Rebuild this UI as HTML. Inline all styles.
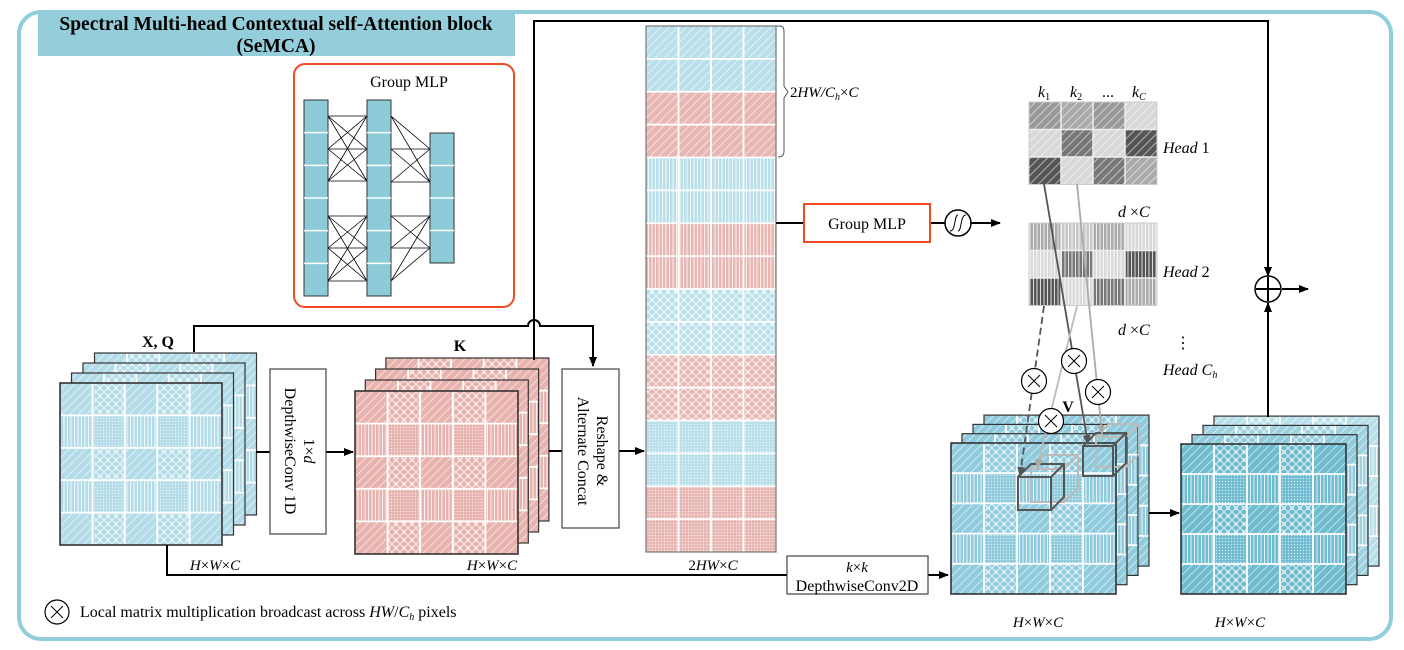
<!DOCTYPE html>
<html><head><meta charset="utf-8"><style>
html,body{margin:0;padding:0;background:#fff;}
svg{display:block;font-family:"Liberation Serif",serif;}
</style></head><body>
<svg id="s" width="1404" height="650" viewBox="0 0 1404 650" xmlns="http://www.w3.org/2000/svg">
<defs>
<pattern id="pd" width="6" height="6" patternUnits="userSpaceOnUse" patternTransform="rotate(45)"><line x1="0" y1="0" x2="0" y2="6" stroke="#fff" stroke-width="1.4" stroke-opacity="0.8"/></pattern>
<pattern id="pv" width="3.5" height="6" patternUnits="userSpaceOnUse"><line x1="1" y1="0" x2="1" y2="6" stroke="#fff" stroke-width="1" stroke-opacity="0.8"/></pattern>
<pattern id="pc" width="8" height="8" patternUnits="userSpaceOnUse"><path d="M0 0L8 8M8 0L0 8" stroke="#fff" stroke-width="0.9" stroke-opacity="0.8"/><circle cx="4" cy="4" r="1.6" fill="none" stroke="#fff" stroke-opacity="0.6" stroke-width="0.7"/></pattern>
<pattern id="pt" width="3" height="3" patternUnits="userSpaceOnUse"><circle cx="1.5" cy="1.5" r="0.7" fill="#fff" fill-opacity="0.7"/></pattern>
<marker id="ar" markerWidth="10" markerHeight="10" refX="9" refY="5" orient="auto" markerUnits="userSpaceOnUse"><path d="M0 1L10 5L0 9z" fill="#000"/></marker>
<marker id="ad" markerWidth="10" markerHeight="10" refX="9" refY="5" orient="auto" markerUnits="userSpaceOnUse"><path d="M0 1L10 5L0 9z" fill="#555"/></marker>
<marker id="ag" markerWidth="10" markerHeight="10" refX="9" refY="5" orient="auto" markerUnits="userSpaceOnUse"><path d="M0 1L10 5L0 9z" fill="#aaa"/></marker>
</defs>
<rect x="19" y="12" width="1372" height="627" rx="22" fill="none" stroke="#92cddb" stroke-width="4"/>
<rect x="38" y="14" width="477" height="42" fill="#94cedb"/>
<text x="276" y="30" font-size="19.5" font-weight="bold" text-anchor="middle">Spectral Multi-head Contextual self-Attention block</text>
<text x="276" y="52" font-size="19.5" font-weight="bold" text-anchor="middle">(SeMCA)</text>
<rect x="294" y="64" width="220" height="243" rx="11" fill="none" stroke="#f04a24" stroke-width="2"/>
<text x="409" y="87" font-size="16" text-anchor="middle">Group MLP</text>
<g id="mlp"></g>
<g id="stk"></g>
<g id="col"></g>
<g id="heads"></g>
<path d="M534 360V21H1268V276" fill="none" stroke="#000" stroke-width="2" marker-end="url(#ar)"/>
<path d="M194 352V326H528a6 6 0 0 1 12 0H593V366" fill="none" stroke="#000" stroke-width="2" marker-end="url(#ar)"/>
<line x1="256" y1="452" x2="270" y2="452" stroke="#000" stroke-width="2"/>
<line x1="326" y1="452" x2="353" y2="452" stroke="#000" stroke-width="2" marker-end="url(#ar)"/>
<line x1="549" y1="451" x2="562" y2="451" stroke="#000" stroke-width="2"/>
<line x1="619" y1="451" x2="644" y2="451" stroke="#000" stroke-width="2" marker-end="url(#ar)"/>
<path d="M167 545V575H948" fill="none" stroke="#000" stroke-width="2" marker-end="url(#ar)"/>
<line x1="776" y1="223" x2="804" y2="223" stroke="#000" stroke-width="2"/>
<line x1="930" y1="223" x2="945" y2="223" stroke="#000" stroke-width="2"/>
<line x1="971" y1="223" x2="1000" y2="223" stroke="#000" stroke-width="2" marker-end="url(#ar)"/>
<line x1="1149" y1="513" x2="1179" y2="513" stroke="#000" stroke-width="2" marker-end="url(#ar)"/>
<line x1="1268" y1="417" x2="1268" y2="303" stroke="#000" stroke-width="2" marker-end="url(#ar)"/>
<line x1="1282" y1="289" x2="1308" y2="289" stroke="#000" stroke-width="2" marker-end="url(#ar)"/>
<circle cx="1268" cy="289" r="13" fill="#fff" stroke="#000" stroke-width="1.5"/>
<path d="M1256 289H1280M1268 277V301" stroke="#000" stroke-width="2"/>
<circle cx="958" cy="223" r="13" fill="#fff" stroke="#000" stroke-width="1.5"/>
<path d="M950 231C956 231 954 215 958 215M958 231C962 231 960 215 966 215" fill="none" stroke="#000" stroke-width="1"/>
<rect x="270" y="369" width="56" height="165" fill="#fff" stroke="#444" stroke-width="1.2"/>
<text transform="translate(304,451) rotate(90)" font-size="16" text-anchor="middle">1×<tspan font-style="italic">d</tspan></text>
<text transform="translate(285,451) rotate(90)" font-size="16" text-anchor="middle">DepthwiseConv 1D</text>
<rect x="562" y="369" width="57" height="159" fill="#fff" stroke="#444" stroke-width="1.2"/>
<text transform="translate(597,451) rotate(90)" font-size="16" text-anchor="middle">Reshape &amp;</text>
<text transform="translate(578,451) rotate(90)" font-size="16" text-anchor="middle">Alternate Concat</text>
<rect x="804" y="204" width="126" height="38" fill="#fff" stroke="#f04a24" stroke-width="2"/>
<text x="867" y="229" font-size="16" text-anchor="middle">Group MLP</text>
<rect x="787" y="556" width="141" height="38" fill="#fff" stroke="#444" stroke-width="1.2"/>
<text x="857" y="572" font-size="15" text-anchor="middle" font-style="italic">k<tspan font-style="normal">×</tspan>k</text>
<text x="857" y="591" font-size="16" text-anchor="middle">DepthwiseConv2D</text>
<text x="158" y="347" font-size="16" font-weight="bold" text-anchor="middle">X, Q</text>
<text x="460" y="351" font-size="16" font-weight="bold" text-anchor="middle">K</text>
<g font-size="15" font-style="italic" text-anchor="middle">
<text x="215" y="570">H<tspan font-style="normal">×</tspan>W<tspan font-style="normal">×</tspan>C</text>
<text x="492" y="570">H<tspan font-style="normal">×</tspan>W<tspan font-style="normal">×</tspan>C</text>
<text x="713" y="570"><tspan font-style="normal">2</tspan>HW<tspan font-style="normal">×</tspan>C</text>
<text x="1038" y="627">H<tspan font-style="normal">×</tspan>W<tspan font-style="normal">×</tspan>C</text>
<text x="1240" y="627">H<tspan font-style="normal">×</tspan>W<tspan font-style="normal">×</tspan>C</text>
</g>
<text x="790" y="97" font-size="15" font-style="italic"><tspan font-style="normal">2</tspan>HW/C<tspan font-size="10" dy="3">h</tspan><tspan dy="-3" font-style="normal">×</tspan>C</text>
<path d="M776 26H780Q784 26 784 32V86L788 92L784 98V151Q784 157 778 157" fill="none" stroke="#555" stroke-width="1"/>
<g font-size="16" font-style="italic">
<text x="1038" y="97">k<tspan font-size="10" font-style="normal" dy="3">1</tspan></text>
<text x="1070" y="97">k<tspan font-size="10" font-style="normal" dy="3">2</tspan></text>
<text x="1102" y="97" font-style="normal">...</text>
<text x="1132" y="97">k<tspan font-size="10" dy="3">C</tspan></text>
<text x="1163" y="153">Head <tspan font-style="normal">1</tspan></text>
<text x="1163" y="277">Head <tspan font-style="normal">2</tspan></text>
<text x="1163" y="375">Head C<tspan font-size="10" dy="3">h</tspan></text>
<text x="1118" y="217">d <tspan font-style="normal">×</tspan>C</text>
<text x="1118" y="335">d <tspan font-style="normal">×</tspan>C</text>
</g>
<text x="1183" y="348" font-size="16" text-anchor="middle">⋮</text>
<text x="1068" y="412" font-size="16" font-weight="bold" text-anchor="middle">V</text>
<circle cx="57" cy="612" r="12" fill="#fff" stroke="#000" stroke-width="1.2"/>
<path d="M51 606L63 618M63 606L51 618" stroke="#000" stroke-width="1"/>
<text x="80" y="617" font-size="16">Local matrix multiplication broadcast across <tspan font-style="italic">HW</tspan>/<tspan font-style="italic">C<tspan font-size="10" dy="3">h</tspan></tspan><tspan dy="-3"> pixels</tspan></text>
<g id="ov"></g>
</svg>
<script>
const NS="http://www.w3.org/2000/svg";
function el(p,t,a){const e=document.createElementNS(NS,t);for(const k in a)e.setAttribute(k,a[k]);p.appendChild(e);return e;}
const m=document.getElementById('mlp');
function bar(x,y,h,n){el(m,'rect',{x:x,y:y,width:24,height:h,fill:'#8ecbd8',stroke:'#333','stroke-width':1});for(let i=1;i<n;i++)el(m,'line',{x1:x,x2:x+24,y1:y+h*i/n,y2:y+h*i/n,stroke:'#fff','stroke-width':1.5});}
function conn(x1,ys1,x2,ys2){ys1.forEach(a=>ys2.forEach(b=>el(m,'line',{x1:x1,y1:a,x2:x2,y2:b,stroke:'#000','stroke-width':0.8})));}
conn(328,[116,149,181],367,[116,149,181]);conn(328,[216,248,281],367,[216,248,281]);
conn(391,[116,149,182],430,[149,182]);conn(391,[216,248,281],430,[216,248]);
bar(304,100,196,6);bar(367,100,196,6);bar(430,133,130,4);
const st=document.getElementById('stk');
const pats=[['pd','pc','pd','pc','pd'],['pv','pt','pv','pt','pv']];
function face(x,y,w,h,fill,front){
  el(st,'rect',{x:x,y:y,width:w,height:h,fill:fill});
  const cw=w/5,ch=h/5;
  for(let r=0;r<5;r++)for(let c=0;c<5;c++)el(st,'rect',{x:x+c*cw,y:y+r*ch,width:cw,height:ch,fill:'url(#'+pats[r%2][c]+')'});
  for(let i=1;i<5;i++){el(st,'line',{x1:x+cw*i,x2:x+cw*i,y1:y,y2:y+h,stroke:'#fff','stroke-width':1.8});el(st,'line',{x1:x,x2:x+w,y1:y+ch*i,y2:y+ch*i,stroke:'#fff','stroke-width':1.8});}
  el(st,'rect',{x:x,y:y,width:w,height:h,fill:'none',stroke:'#333','stroke-width':front?1.6:1.2});
}
function stack(x,y,w,h,dx,dy,fills){for(let i=3;i>=0;i--)face(x+dx*i,y-dy*i,w,h,fills[i],i==0);}
stack(60,383,162,162,11.5,10,['#b3dce8','#b3dce8','#b3dce8','#b3dce8']);
stack(355,391,163,163,10.3,11,['#e8b3ae','#e8b3ae','#e8b3ae','#e8b3ae']);
stack(951,443,165,151,11,9.3,['#8fcbdc','#8fcbdc','#8fcbdc','#8fcbdc']);
stack(1181,444,165,150,11,9.3,['#6fbcd1','#8fcbdc','#9fd2e0','#b8dfea']);
const col=document.getElementById('col');
const cp=['pd','pd','pv','pv','pc','pc','pt','pt'];
const rh=(552-26)/16;
for(let r=0;r<16;r++){const blue=Math.floor(r/2)%2==0;const y=26+r*rh;
  el(col,'rect',{x:646,y:y,width:130,height:rh,fill:blue?'#b8dfea':'#e8b7b3'});
  el(col,'rect',{x:646,y:y,width:130,height:rh,fill:'url(#'+cp[Math.floor(r/2)]+')'});
  if(r>0)el(col,'line',{x1:646,x2:776,y1:y,y2:y,stroke:'#fff','stroke-width':1.8});}
for(let i=1;i<4;i++)el(col,'line',{x1:646+32.5*i,x2:646+32.5*i,y1:26,y2:552,stroke:'#fff','stroke-width':1.8});
el(col,'rect',{x:646,y:26,width:130,height:526,fill:'none',stroke:'#777','stroke-width':1.2});
const hd=document.getElementById('heads');
const h1=[['#999','#aaa','#999','#d8d8d8'],['#d8d8d8','#777','#d8d8d8','#555'],['#555','#d8d8d8','#777','#aaa']];
const h2=[['#aaa','#c8c8c8','#aaa','#d8d8d8'],['#dadada','#777','#dadada','#555'],['#555','#dadada','#777','#aaa']];
function head(y,vals,pat){const cw=32,ch=27.5;
 for(let r=0;r<3;r++)for(let c=0;c<4;c++){el(hd,'rect',{x:1029+c*cw,y:y+r*ch,width:cw,height:ch,fill:vals[r][c]});el(hd,'rect',{x:1029+c*cw,y:y+r*ch,width:cw,height:ch,fill:'url(#'+pat+')'});}
 for(let i=1;i<4;i++)el(hd,'line',{x1:1029+cw*i,x2:1029+cw*i,y1:y,y2:y+82.5,stroke:'#eee','stroke-width':1.5});
 for(let i=1;i<3;i++)el(hd,'line',{x1:1029,x2:1157,y1:y+ch*i,y2:y+ch*i,stroke:'#eee','stroke-width':1.5});
 el(hd,'rect',{x:1029,y:y,width:128,height:82.5,fill:'none',stroke:'#ccc','stroke-width':1});}
head(102,h1,'pd');head(223,h2,'pv');
const ov=document.getElementById('ov');
function cube(x,y,sz,o,col,w){el(ov,'path',{d:`M${x} ${y}h${sz}v${sz}h-${sz}z M${x} ${y}l${o} -${o}h${sz}v${sz}l-${o} ${o} M${x+sz} ${y}l${o} -${o}`,fill:'none',stroke:col,'stroke-width':w});}
cube(1031,469,33,14,'#bbb',2);
cube(1018,477,33,13,'#555',2);
cube(1096,437,30,13,'#bbb',2);
cube(1083,446,30,13,'#555',2);
el(ov,'line',{x1:1044,y1:184,x2:1088,y2:444,stroke:'#555','stroke-width':1.8,'marker-end':'url(#ad)'});
el(ov,'line',{x1:1077,y1:184,x2:1102,y2:434,stroke:'#aaa','stroke-width':1.8,'marker-end':'url(#ag)'});
el(ov,'line',{x1:1044,y1:306,x2:1020,y2:476,stroke:'#555','stroke-width':1.8,'stroke-dasharray':'7 4','marker-end':'url(#ad)'});
el(ov,'line',{x1:1077,y1:306,x2:1037,y2:468,stroke:'#bbb','stroke-width':1.8,'marker-end':'url(#ag)'});
[[1034,381],[1074,361],[1098,392],[1051,421]].forEach(([x,y])=>{el(ov,'circle',{cx:x,cy:y,r:12.5,fill:'#fff',stroke:'#000','stroke-width':1.2});el(ov,'path',{d:`M${x-6} ${y-6}L${x+6} ${y+6}M${x+6} ${y-6}L${x-6} ${y+6}`,stroke:'#000','stroke-width':1});});
</script>
</body></html>
